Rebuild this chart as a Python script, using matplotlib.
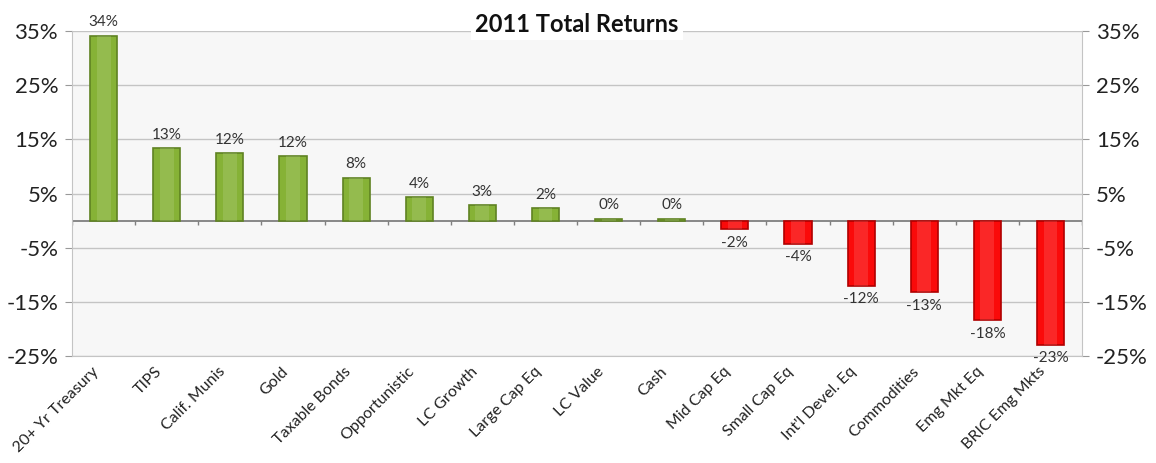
import matplotlib.pyplot as plt
import matplotlib.transforms as mtransforms
import numpy as np

categories = ['20+ Yr Treasury', 'TIPS', 'Calif. Munis', 'Gold', 'Taxable Bonds',
              'Opportunistic', 'LC Growth', 'Large Cap Eq', 'LC Value', 'Cash',
              'Mid Cap Eq', 'Small Cap Eq', "Int'l Devel. Eq", 'Commodities',
              'Emg Mkt Eq', 'BRIC Emg Mkts']
returns = [34.1, 13.4, 12.4, 11.9, 7.9, 4.3, 2.8, 2.3, 0.3, 0.3,
           -1.6, -4.3, -12.0, -13.2, -18.4, -22.9]
labels = ['34%', '13%', '12%', '12%', '8%', '4%', '3%', '2%', '0%', '0%',
          '-2%', '-4%', '-12%', '-13%', '-18%', '-23%']
yticks = [-25, -15, -5, 5, 15, 25, 35]

plt.rcParams['font.family'] = ['Lato', 'DejaVu Sans']

fig = plt.figure(figsize=(11.56, 4.63), dpi=100)
ax = fig.add_axes([0.0623, 0.231, 0.8737, 0.702])
ax.set_facecolor('#f7f7f7')

x = np.arange(len(categories))
pos_color, pos_edge = '#86b236', '#5f8222'
neg_color, neg_edge = '#fa0a0a', '#b00000'
colors = [pos_color if v >= 0 else neg_color for v in returns]
edges = [pos_edge if v >= 0 else neg_edge for v in returns]
ax.bar(x, returns, width=0.43, color=colors, edgecolor=edges, linewidth=1.2, zorder=3)
# soft lighter centre to hint at the gradient look
ax.bar(x, returns, width=0.22, color='white', alpha=0.12, linewidth=0, zorder=4)

for xi, v, lab in zip(x, returns, labels):
    if v >= 0:
        ax.text(xi, v + 1.2, lab, ha='center', va='bottom', fontsize=11, color='#333333')
    else:
        ax.text(xi, v - 1.2, lab, ha='center', va='top', fontsize=11, color='#333333')

ax.set_xlim(-0.5, len(categories) - 0.5)
ax.set_ylim(-25, 35)
ax.set_yticks(yticks)
ax.set_yticklabels([f'{t}%' for t in yticks])
ax.yaxis.grid(True, color='#c4c4c4', linewidth=1, zorder=0)
ax.tick_params(axis='y', labelsize=16, colors='#999999', labelcolor='#222222',
               length=5, labelright=True, right=True, pad=5)

ax.axhline(0, color='#7f7f7f', linewidth=1.3, zorder=2)
ax.vlines(np.arange(len(categories) + 1) - 0.5, -0.9, 0, color='#7f7f7f', linewidth=1, zorder=2)

ax.set_xticks(x)
ax.set_xticklabels(categories, rotation=45, ha='right', rotation_mode='anchor',
                   fontsize=11.5, color='#222222')
ax.tick_params(axis='x', length=0, pad=6)
shift = mtransforms.ScaledTranslation(-12 / 100, 0, fig.dpi_scale_trans)
for lab in ax.get_xticklabels():
    lab.set_transform(lab.get_transform() + shift)

for side in ['left', 'right', 'bottom']:
    ax.spines[side].set_color('#c4c4c4')
ax.spines['top'].set_visible(False)

ax.text(0.5, 1.02, '2011 Total Returns', transform=ax.transAxes, ha='center', va='center',
        fontsize=17, fontweight='bold', color='#111111',
        bbox=dict(facecolor='white', edgecolor='none', pad=3), zorder=5)

fig.savefig('out.png', dpi=100)
